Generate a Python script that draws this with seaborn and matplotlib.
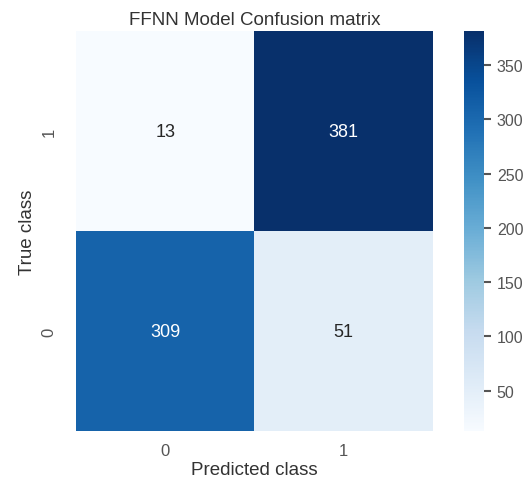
import matplotlib
matplotlib.use("Agg")
import matplotlib.pyplot as plt
import numpy as np
import pandas as pd
import seaborn as sns

# Confusion matrix counts: rows are true class (1 on top), columns predicted class
true_classes = ["1", "0"]
pred_classes = ["0", "1"]
row_true_1 = [13, 381]
row_true_0 = [309, 51]

cm = pd.DataFrame([row_true_1, row_true_0], index=true_classes, columns=pred_classes)

sns.set_theme(style="white")
plt.rcParams["font.family"] = ["Liberation Sans", "DejaVu Sans"]

fig = plt.figure(figsize=(5.31, 4.81), dpi=100)
ax = fig.add_axes([0.143, 0.102, 0.672, 0.831])
cax = fig.add_axes([0.873, 0.102, 0.039, 0.831])

sns.heatmap(cm, annot=True, fmt="d", cmap="Blues", ax=ax, cbar_ax=cax,
            annot_kws={"fontsize": 13})

ax.set_title("FFNN Model Confusion matrix", fontsize=13.5, color="#333333", pad=5)
ax.set_xlabel("Predicted class", fontsize=13.5, color="#333333", labelpad=2)
ax.set_ylabel("True class", fontsize=13.5, color="#333333", labelpad=4)
ax.tick_params(axis="x", labelsize=12, colors="#555555", length=0, pad=9)
ax.tick_params(axis="y", labelsize=12, colors="#555555", length=0, pad=14, labelrotation=90)
cax.tick_params(labelsize=11.5, colors="#555555", length=5, width=1.5, left=False, right=True, pad=4)
cax.set_yticks([50, 100, 150, 200, 250, 300, 350])

fig.savefig("out.png", dpi=100)
